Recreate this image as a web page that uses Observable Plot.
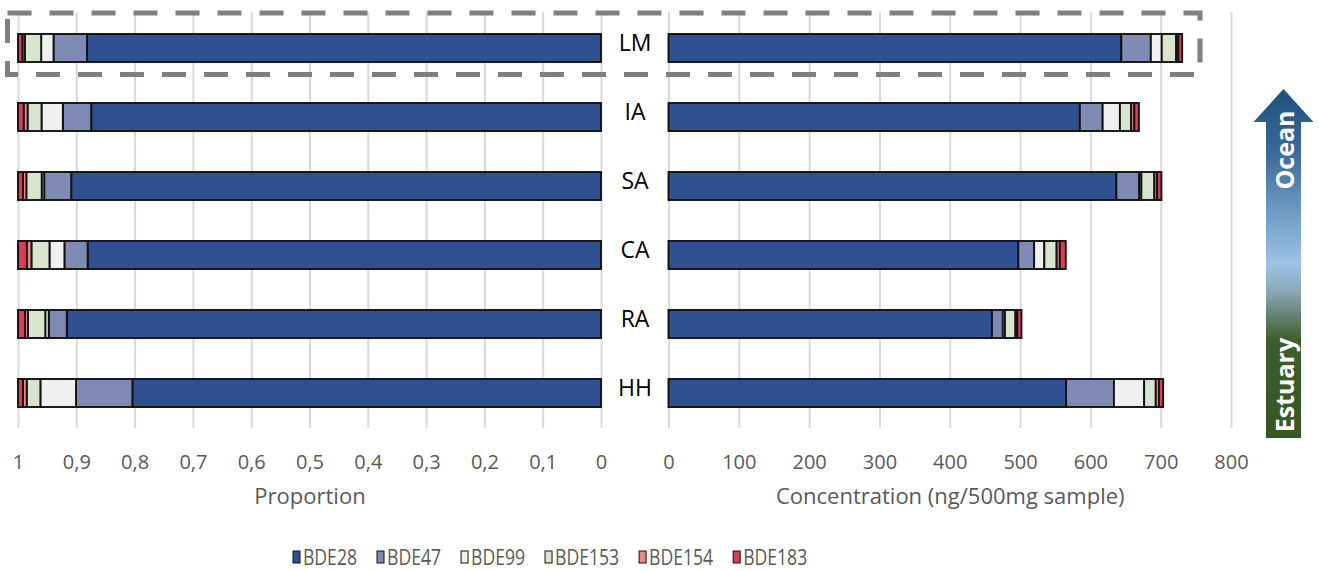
<!DOCTYPE html>
<html>
<head>
<meta charset="utf-8">
<script src="https://cdn.jsdelivr.net/npm/d3@7"></script>
<script src="https://cdn.jsdelivr.net/npm/@observablehq/plot@0.6"></script>
<style>
  html, body { margin: 0; padding: 0; background: #fff; }
  #chart { position: relative; width: 1319px; height: 571px; overflow: hidden; font-family: "Open Sans", sans-serif; }
  #chart > .panel { position: absolute; top: 0; }
  #overlay, #legend { position: absolute; left: 0; pointer-events: none; }
</style>
</head>
<body>
<div id="chart"></div>
<script>
// Sampling sites, top (ocean) to bottom (estuary)
const sites = ["LM", "IA", "SA", "CA", "RA", "HH"];
const congeners = ["BDE28", "BDE47", "BDE99", "BDE153", "BDE154", "BDE183"];
const congenerColors = ["#2f5191", "#7f8bb4", "#f0f0f0", "#d9e4ce", "#e9898b", "#dd3b57"];

// Concentrations per congener (ng/500mg sample), in site order
const bde28  = [644, 585, 637, 497.5, 460, 565.5];
const bde47  = [42, 32.5, 32.5, 22.5, 15.5, 68];
const bde99  = [15.5, 24.5, 3, 14.5, 3, 43];
const bde153 = [20.5, 16, 18.5, 17.5, 15, 16.5];
const bde154 = [3, 4.5, 4, 4.5, 2.5, 4.5];
const bde183 = [5.5, 6.5, 6, 8.5, 6, 6];

// Axis ticks and their labels
const propTicks = [0, 0.1, 0.2, 0.3, 0.4, 0.5, 0.6, 0.7, 0.8, 0.9, 1];
const propTickLabels = ["0", "0,1", "0,2", "0,3", "0,4", "0,5", "0,6", "0,7", "0,8", "0,9", "1"];
const concTicks = [0, 100, 200, 300, 400, 500, 600, 700, 800];

// Long tables for stacking
const series = [bde28, bde47, bde99, bde153, bde154, bde183];
const concRows = [];
sites.forEach((site, i) => {
  congeners.forEach((c, j) => concRows.push({site, congener: c, value: series[j][i]}));
});
const totals = sites.map((s, i) => d3.sum(series, arr => arr[i]));
const propRows = concRows.map(d => ({...d, value: d.value / totals[sites.indexOf(d.site)]}));

const panelW = 620, panelH = 520, mTop = 12, mBottom = 92;
const font = "'Open Sans', sans-serif";
const baseStyle = {fontFamily: font, fontSize: "20px", color: "#595959", background: "transparent", overflow: "visible"};
const yScale = {domain: sites, paddingInner: 0.6, paddingOuter: 0.3, axis: null};
const colorScale = {domain: congeners, range: congenerColors};

const leftPanel = Plot.plot({
  width: panelW, height: panelH,
  marginLeft: 18, marginRight: 19, marginTop: mTop, marginBottom: mBottom,
  style: baseStyle,
  x: {domain: [0, 1], reverse: true, ticks: propTicks, tickSize: 0, tickPadding: 26,
      tickFormat: d => propTickLabels[propTicks.indexOf(d)], label: null},
  y: yScale,
  color: colorScale,
  marks: [
    Plot.ruleX(propTicks, {stroke: "#d9d9d9", strokeWidth: 2}),
    Plot.barX(propRows, Plot.stackX({x: "value", y: "site", fill: "congener", order: congeners,
      stroke: "#111", strokeWidth: 1.9})),
    Plot.text(["Proportion"], {frameAnchor: "bottom", dy: 75, fontSize: 22, fill: "#595959"})
  ]
});

const rightPanel = Plot.plot({
  width: panelW, height: panelH,
  marginLeft: 48.5, marginRight: 9, marginTop: mTop, marginBottom: mBottom,
  style: baseStyle,
  x: {domain: [0, 800], ticks: concTicks, tickSize: 0, tickPadding: 26, label: null},
  y: yScale,
  color: colorScale,
  marks: [
    Plot.ruleX(concTicks, {stroke: "#d9d9d9", strokeWidth: 2}),
    Plot.barX(concRows, Plot.stackX({x: "value", y: "site", fill: "congener", order: congeners,
      stroke: "#111", strokeWidth: 1.9})),
    Plot.text(sites, {y: d => d, frameAnchor: "left", dx: -34, dy: -5, textAnchor: "middle",
      fontSize: 23, fill: "#000"}),
    Plot.text(["Concentration (ng/500mg sample)"], {frameAnchor: "bottom", dy: 75, fontSize: 22, fill: "#595959"})
  ]
});

const chart = document.getElementById("chart");
leftPanel.classList.add("panel"); leftPanel.style.left = "0px";
rightPanel.classList.add("panel"); rightPanel.style.left = panelW + "px";
chart.append(leftPanel, rightPanel);

// Overlay: dashed frame around the LM row, and the estuary → ocean arrow
const ov = d3.select(chart).append("svg").attr("id", "overlay")
  .attr("width", 1319).attr("height", 571).style("top", "0px");

ov.append("rect")
  .attr("x", 7.5).attr("y", 13).attr("width", 1192.5).attr("height", 61.5)
  .attr("fill", "none").attr("stroke", "#7f7f7f").attr("stroke-width", 5)
  .attr("stroke-dasharray", "24 18");

const grad = ov.append("defs").append("linearGradient")
  .attr("id", "arrowGrad").attr("x1", 0).attr("y1", 0).attr("x2", 0).attr("y2", 1);
[[0, "#1f4e79"], [0.18, "#3a6a99"], [0.5, "#9dc3e6"], [0.58, "#8aa7b5"], [0.72, "#3d5e2b"], [1, "#375623"]]
  .forEach(([o, c]) => grad.append("stop").attr("offset", o).attr("stop-color", c));

const ax = 1283.5, tipY = 89, baseY = 122, headHalf = 30, shaftHalf = 17.5, endY = 438;
ov.append("path")
  .attr("d", `M${ax},${tipY} L${ax + headHalf},${baseY} L${ax + shaftHalf},${baseY} L${ax + shaftHalf},${endY}
              L${ax - shaftHalf},${endY} L${ax - shaftHalf},${baseY} L${ax - headHalf},${baseY} Z`)
  .attr("fill", "url(#arrowGrad)");

[["Ocean", 150], ["Estuary", 385]].forEach(([t, cy]) => {
  ov.append("text")
    .attr("transform", `translate(${ax + 10},${cy}) rotate(-90)`)
    .attr("text-anchor", "middle")
    .attr("fill", "#fff").attr("font-family", font).attr("font-weight", 700).attr("font-size", 25)
    .text(t);
});

// Legend
const lg = d3.select(chart).append("svg").attr("id", "legend")
  .attr("width", 1319).attr("height", 40).style("top", "538px");
let lx = 293;
const squeeze = 0.8;
congeners.forEach((c, i) => {
  lg.append("rect").attr("x", lx).attr("y", 13).attr("width", 7).attr("height", 12)
    .attr("fill", congenerColors[i]).attr("stroke", "#111").attr("stroke-width", 1);
  const t = lg.append("text")
    .attr("transform", `translate(${lx + 10},${27}) scale(${squeeze},1)`)
    .attr("font-family", font).attr("font-size", 22).attr("fill", "#595959")
    .text(c);
  lx += 10 + t.node().getComputedTextLength() * squeeze + 20;
});
</script>
</body>
</html>
